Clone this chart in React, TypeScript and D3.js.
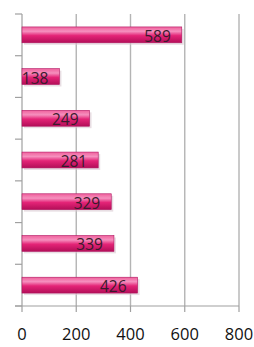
import React from 'react';
import * as d3 from 'd3';

const categories = ['a', 'b', 'c', 'd', 'e', 'f', 'g'];
const values = [589, 138, 249, 281, 329, 339, 426];
const xTicks = [0, 200, 400, 600, 800];

const W = 254;
const H = 347;
const left = 22;
const right = 239;
const top = 14;
const bottom = 306;

const App = () => {
  const x = d3.scaleLinear().domain([0, 800]).range([left, right]);
  const y = d3.scaleBand<string>().domain(categories).range([top, bottom])
    .paddingInner(0.62).paddingOuter(0.31);
  const step = y.step();
  const yTicks = d3.range(categories.length + 1).map(i => top + i * step);
  const font = '"Open Sans", sans-serif';

  return (
    <svg width={W} height={H} style={{ position: 'absolute', left: 0, top: 0, background: '#fff' }}>
      <defs>
        <linearGradient id="bar" x1="0" y1="0" x2="0" y2="1">
          <stop offset="0" stopColor="#f0609c" />
          <stop offset="0.28" stopColor="#f590be" />
          <stop offset="0.55" stopColor="#e42477" />
          <stop offset="1" stopColor="#b30e58" />
        </linearGradient>
      </defs>
      {xTicks.slice(1).map(t => (
        <line key={t} x1={x(t)} x2={x(t)} y1={top} y2={bottom} stroke="#b4b4b4" strokeWidth={1.4} />
      ))}
      {/* y axis */}
      <line x1={left} x2={left} y1={top} y2={bottom} stroke="#a0a0a0" strokeWidth={1.2} />
      {yTicks.map((t, i) => (
        <line key={i} x1={15} x2={left} y1={t} y2={t} stroke="#a0a0a0" strokeWidth={1.2} />
      ))}
      {/* x axis */}
      <line x1={15} x2={right} y1={bottom} y2={bottom} stroke="#a0a0a0" strokeWidth={1.2} />
      {xTicks.map(t => (
        <line key={t} x1={x(t)} x2={x(t)} y1={bottom} y2={bottom + 6} stroke="#a0a0a0" strokeWidth={1.2} />
      ))}
      {xTicks.map(t => (
        <text key={t} x={x(t)} y={340} textAnchor="middle" fontFamily={font} fontSize={16.5} fill="#111">{t}</text>
      ))}
      {categories.map((c, i) => {
        const y0 = y(c) as number;
        const bw = y.bandwidth();
        const x1 = x(values[i]);
        return (
          <g key={c}>
            <rect x={left + 2} y={y0 + 2} width={x1 - left} height={bw} fill="#d8c8d0" opacity={0.6} />
            <rect x={left} y={y0} width={x1 - left} height={bw} fill="url(#bar)" stroke="#b01560" strokeWidth={0.6} />
            <text x={x1 - 11} y={y0 + bw / 2 + 1} textAnchor="end" dominantBaseline="central"
              fontFamily={font} fontSize={15.5} fill="#3a1a2c">{values[i]}</text>
          </g>
        );
      })}
    </svg>
  );
};

export default App;
